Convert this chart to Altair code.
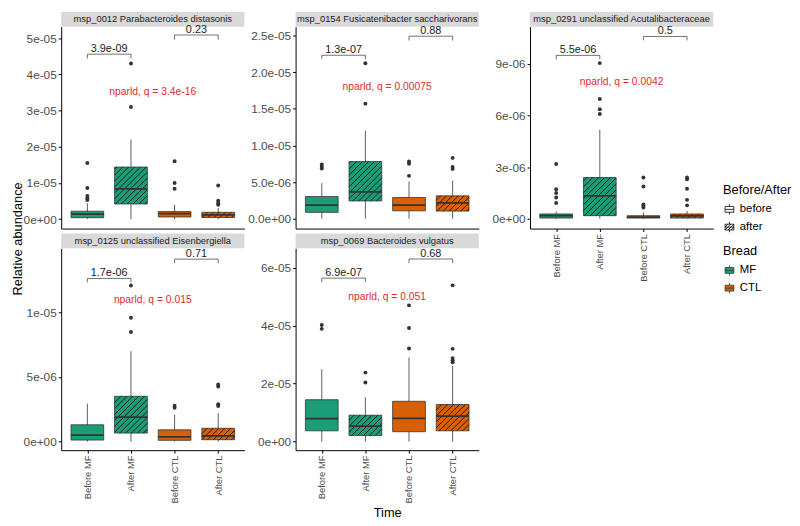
import altair as alt
import pandas as pd

# ---------------- data ----------------
POS = [1, 2, 3, 4]
TIME_LABELS = ["Before MF", "After MF", "Before CTL", "After CTL"]
BREAD = ["MF", "MF", "CTL", "CTL"]
BA = ["before", "after", "before", "after"]
GREEN = "#1B9E77"
ORANGE = "#D95F02"
BOX_COLORS = [GREEN, GREEN, ORANGE, ORANGE]

# panel 1
P1_TITLE = "msp_0012 Parabacteroides distasonis"
P1_Q1 = [0.4e-6, 4.2e-6, 0.6e-6, 0.45e-6]
P1_MED = [1.4e-6, 8.4e-6, 1.5e-6, 1.2e-6]
P1_Q3 = [2.2e-6, 14.4e-6, 2.1e-6, 1.9e-6]
P1_LO = [0, 0, 0, 0]
P1_HI = [4.4e-6, 22e-6, 4.0e-6, 3.1e-6]
P1_OUT = [[15.5e-6, 8.6e-6, 6.4e-6, 5.8e-6, 5.3e-6], [31e-6, 43e-6],
          [16e-6, 10e-6, 8.4e-6], [9.3e-6, 5.1e-6, 4.4e-6, 4.0e-6]]
P1_BR_Y = [45.6e-6, 50.9e-6]
P1_BR_TICK = [44.4e-6, 49.6e-6]
P1_BR_LAB = ["3.9e-09", "0.23"]
P1_NOTE = "nparld, q = 3.4e-16"
P1_NOTE_Y = 35.1e-6
P1_DOMAIN = [-2.6e-6, 53.2e-6]
P1_TICKS = [0, 1e-05, 2e-05, 3e-05, 4e-05, 5e-05]

# panel 2
P2_TITLE = "msp_0154 Fusicatenibacter saccharivorans"
P2_Q1 = [0.87e-6, 2.43e-6, 1.08e-6, 1.04e-6]
P2_MED = [1.86e-6, 3.68e-6, 1.86e-6, 2.17e-6]
P2_Q3 = [3.03e-6, 7.8e-6, 2.9e-6, 3.12e-6]
P2_LO = [0, 0, 0, 0]
P2_HI = [4.85e-6, 12.0e-6, 5.07e-6, 5.2e-6]
P2_OUT = [[7.4e-6, 7.1e-6, 6.85e-6], [15.7e-6, 21.2e-6],
          [7.8e-6, 7.5e-6, 5.85e-6], [8.3e-6, 7.06e-6, 6.8e-6]]
P2_BR_Y = [22.3e-6, 24.9e-6]
P2_BR_TICK = [21.75e-6, 24.3e-6]
P2_BR_LAB = ["1.3e-07", "0.88"]
P2_NOTE = "nparld, q = 0.00075"
P2_NOTE_Y = 17.9e-6
P2_DOMAIN = [-1.34e-6, 26.2e-6]
P2_TICKS = [0, 5e-06, 1e-05, 1.5e-05, 2e-05, 2.5e-05]

# panel 3
P3_TITLE = "msp_0291 unclassified Acutalibacteraceae"
P3_Q1 = [0.04e-6, 0.18e-6, 0.04e-6, 0.04e-6]
P3_MED = [0.18e-6, 1.33e-6, 0.09e-6, 0.17e-6]
P3_Q3 = [0.28e-6, 2.4e-6, 0.18e-6, 0.28e-6]
P3_LO = [0, 0, 0, 0]
P3_HI = [0.42e-6, 5.17e-6, 0.37e-6, 0.46e-6]
P3_OUT = [[3.18e-6, 1.72e-6, 1.5e-6, 1.24e-6, 0.92e-6], [9.05e-6, 6.96e-6, 6.37e-6, 6.09e-6],
          [2.4e-6, 1.88e-6, 0.83e-6, 0.74e-6, 0.65e-6], [2.4e-6, 2.3e-6, 1.75e-6, 1.1e-6, 0.78e-6]]
P3_BR_Y = [9.5e-6, 10.6e-6]
P3_BR_TICK = [9.27e-6, 10.37e-6]
P3_BR_LAB = ["5.5e-06", "0.5"]
P3_NOTE = "nparld, q = 0.0042"
P3_NOTE_Y = 7.94e-6
P3_DOMAIN = [-0.57e-6, 11.17e-6]
P3_TICKS = [0, 3e-06, 6e-06, 9e-06]

# panel 4
P4_TITLE = "msp_0125 unclassified Eisenbergiella"
P4_Q1 = [0.12e-6, 0.66e-6, 0.10e-6, 0.15e-6]
P4_MED = [0.51e-6, 1.89e-6, 0.37e-6, 0.44e-6]
P4_Q3 = [1.3e-6, 3.5e-6, 0.91e-6, 1.03e-6]
P4_LO = [0, 0, 0, 0]
P4_HI = [2.94e-6, 6.98e-6, 2.08e-6, 2.2e-6]
P4_OUT = [[], [12.06e-6, 9.56e-6, 8.46e-6],
          [2.77e-6, 2.62e-6], [4.41e-6, 4.26e-6, 2.89e-6, 2.75e-6]]
P4_BR_Y = [12.6e-6, 14.09e-6]
P4_BR_TICK = [12.3e-6, 13.77e-6]
P4_BR_LAB = ["1.7e-06", "0.71"]
P4_NOTE = "nparld, q = 0.015"
P4_NOTE_Y = 10.96e-6
P4_DOMAIN = [-0.66e-6, 14.93e-6]
P4_TICKS = [0, 5e-06, 1e-05]

# panel 5
P5_TITLE = "msp_0069 Bacteroides vulgatus"
P5_Q1 = [3.72e-6, 2.08e-6, 3.4e-6, 3.72e-6]
P5_MED = [7.9e-6, 5.37e-6, 8.0e-6, 8.76e-6]
P5_Q3 = [14.45e-6, 9.1e-6, 13.9e-6, 12.8e-6]
P5_LO = [0, 0, 0, 0]
P5_HI = [24.97e-6, 15.3e-6, 29.0e-6, 26.1e-6]
P5_OUT = [[40.2e-6, 38.9e-6], [23.8e-6, 20.4e-6],
          [32.1e-6, 39.2e-6, 47.0e-6], [53.9e-6, 32.0e-6, 28.8e-6, 28.1e-6, 27.4e-6]]
P5_BR_Y = [56.4e-6, 63.0e-6]
P5_BR_TICK = [55.0e-6, 61.6e-6]
P5_BR_LAB = ["6.9e-07", "0.68"]
P5_NOTE = "nparld, q = 0.051"
P5_NOTE_Y = 50.0e-6
P5_DOMAIN = [-2.96e-6, 66.7e-6]
P5_TICKS = [0, 2e-05, 4e-05, 6e-05]

# ---------------- style ----------------
W, H = 186, 205
COL_GAP = 52
XDOM = [0.4, 4.6]
BOXW = 0.75
HATCH_SPACING = 6.0
FONT = "Liberation Sans"
TXT = "#1A1A1A"
AXC = "#4D4D4D"
NOTE_COLOR = "#E42B2B"
LINE = "#333333"
LEG_X = 3 * W + 2 * COL_GAP + 10

BOX_PATH = "M-0.75,-0.5H0.75V0.5H-0.75Z M-0.75,0H0.75 M0,-0.5V-0.9 M0,0.5V0.9"
HATCH_PATH = BOX_PATH + " M-0.75,0L-0.25,-0.5 M-0.75,0.5L0.25,-0.5 M-0.25,0.5L0.75,-0.5 M0.25,0.5L0.75,0"

X_LABEL_EXPR = "[" + ",".join("'%s'" % t for t in TIME_LABELS) + "][datum.value - 1]"


def y_label_expr(fmt):
    return ("replace(replace(format(datum.value, '%s'), 'e-', 'e-0'), 'e+', 'e+0')" % fmt)


def hatch_segments(q1, q3, dom):
    kx = W / (XDOM[1] - XDOM[0])
    ky = H / (dom[1] - dom[0])
    rows = []
    for p, a, b, ba in zip(POS, q1, q3, BA):
        if ba != "after":
            continue
        x0 = (p - BOXW / 2 - XDOM[0]) * kx
        x1 = (p + BOXW / 2 - XDOM[0]) * kx
        y0 = (a - dom[0]) * ky
        y1 = (b - dom[0]) * ky
        cmin = y0 - x1
        cmax = y1 - x0
        k = int(cmin // HATCH_SPACING)
        while k * HATCH_SPACING <= cmax:
            c = k * HATCH_SPACING
            xa = max(x0, y0 - c)
            xb = min(x1, y1 - c)
            if xb - xa > 0.3:
                rows.append({
                    "hx": xa / kx + XDOM[0], "hx2": xb / kx + XDOM[0],
                    "hy": (xa + c) / ky + dom[0], "hy2": (xb + c) / ky + dom[0],
                })
            k += 1
    return pd.DataFrame(rows)


def panel(title, q1, med, q3, lo, hi, outl, br_y, br_tick, br_lab, note, note_y,
          dom, ticks, fmt, xmode, ytitle=False, time_title=False, legend=False):
    boxes = pd.DataFrame({
        "pos": POS, "time": TIME_LABELS, "bread": BREAD, "ba": BA, "col": BOX_COLORS,
        "q1": q1, "med": med, "q3": q3, "lo": lo, "hi": hi,
    })
    boxes["xl"] = boxes["pos"] - BOXW / 2
    boxes["xr"] = boxes["pos"] + BOXW / 2
    outs = pd.DataFrame([{"pos": p, "v": v} for p, vs in zip(POS, outl) for v in vs])
    brk = pd.DataFrame({"xa": [1, 3], "xb": [2, 4], "y": br_y, "yt": br_tick, "lab": br_lab})
    brk["xm"] = (brk["xa"] + brk["xb"]) / 2
    brk_v = pd.DataFrame({"bx": [1, 2, 3, 4], "by": [br_y[0], br_y[0], br_y[1], br_y[1]],
                          "byt": [br_tick[0], br_tick[0], br_tick[1], br_tick[1]]})
    notes = pd.DataFrame({"x": [2.5], "y": [note_y], "t": [note]})
    hat = hatch_segments(q1, q3, dom)

    xscale = alt.Scale(domain=XDOM, nice=False, zero=False)
    yscale = alt.Scale(domain=dom, nice=False, zero=False)

    if xmode == "labels":
        xaxis = alt.Axis(values=POS, labelExpr=X_LABEL_EXPR, labelAngle=270, labelFontSize=9.5,
                         labelColor=AXC, grid=False, domainColor="black", tickColor="black",
                         tickSize=3, labelPadding=2, titleFontSize=13, titleFontWeight="normal",
                         titleColor="black", titlePadding=4)
    else:
        xaxis = alt.Axis(values=POS, labels=False, ticks=False, grid=False, domainColor="black")
    xtitle = "Time" if time_title else None

    yaxis_kw = dict(values=ticks, labelExpr=y_label_expr(fmt), grid=False, domainColor="black",
                    tickColor="black", tickSize=3, labelFontSize=12, labelColor=AXC, labelPadding=2)
    if ytitle:
        yaxis_kw.update(titleFontSize=13, titleFontWeight="normal", titleColor="black",
                        titleX=-37, titleY=H + 10, titleAngle=270, titleAlign="center",
                        titleBaseline="bottom")
    yaxis = alt.Axis(**yaxis_kw)
    ytitle_txt = "Relative abundance" if ytitle else None

    def X(f):
        return alt.X(f, type="quantitative", scale=xscale, axis=xaxis, title=xtitle)

    def Y(f):
        return alt.Y(f, type="quantitative", scale=yscale, axis=yaxis, title=ytitle_txt)

    strip_df = pd.DataFrame({"t": [title]})
    strip = alt.Chart(strip_df).mark_rect(color="#D9D9D9").encode(
        x=alt.value(0), x2=alt.value(W), y=alt.value(-15), y2=alt.value(0))
    strip_txt = alt.Chart(strip_df).mark_text(font=FONT, fontSize=9.5, color=TXT,
                                              baseline="middle").encode(
        x=alt.value(W / 2), y=alt.value(-7.5), text="t:N")

    whisk = alt.Chart(boxes).mark_rule(color=LINE, strokeWidth=0.8).encode(
        x=X("pos"), y=Y("lo"), y2="hi")
    box = alt.Chart(boxes).mark_rect(stroke=LINE, strokeWidth=0.8).encode(
        x=X("xl"), x2="xr", y=Y("q1"), y2="q3",
        fill=alt.Fill("col:N", scale=None))
    layers = [strip, strip_txt, whisk, box]
    if len(hat):
        layers.append(alt.Chart(hat).mark_rule(color="#111111", strokeWidth=0.9).encode(
            x=X("hx"), x2="hx2", y=Y("hy"), y2="hy2"))
    layers.append(alt.Chart(boxes).mark_rule(color=LINE, strokeWidth=1.8).encode(
        x=X("xl"), x2="xr", y=Y("med")))
    if len(outs):
        layers.append(alt.Chart(outs).mark_circle(color=LINE, size=16, opacity=1).encode(
            x=X("pos"), y=Y("v")))
    layers.append(alt.Chart(brk).mark_rule(color=LINE, strokeWidth=0.7).encode(
        x=X("xa"), x2="xb", y=Y("y")))
    layers.append(alt.Chart(brk_v).mark_rule(color=LINE, strokeWidth=0.7).encode(
        x=X("bx"), y=Y("by"), y2="byt"))
    layers.append(alt.Chart(brk).mark_text(font=FONT, fontSize=11, color=TXT,
                                           baseline="alphabetic", dy=-2).encode(
        x=X("xm"), y=Y("y"), text="lab:N"))
    layers.append(alt.Chart(notes).mark_text(font=FONT, fontSize=10.5, color=NOTE_COLOR,
                                             baseline="middle").encode(
        x=X("x"), y=Y("y"), text="t:N"))
    if legend:
        layers.append(alt.Chart(boxes).mark_point(opacity=0, filled=True).encode(
            x=X("pos"), y=Y("med"),
            shape=alt.Shape("ba:N", scale=alt.Scale(domain=["before", "after"],
                                                    range=[BOX_PATH, HATCH_PATH]),
                            legend=alt.Legend(title="Before/After", orient="none",
                                              legendX=LEG_X, legendY=160,
                                              symbolFillColor="white", symbolStrokeColor="black",
                                              symbolStrokeWidth=0.8, symbolOpacity=1,
                                              symbolSize=140)),
            fill=alt.Fill("bread:N", scale=alt.Scale(domain=["MF", "CTL"], range=[GREEN, ORANGE]),
                          legend=alt.Legend(title="Bread", orient="none",
                                            legendX=LEG_X, legendY=222,
                                            symbolType=BOX_PATH, symbolStrokeColor="black",
                                            symbolStrokeWidth=0.8, symbolOpacity=1,
                                            symbolSize=140)),
        ))
    return alt.layer(*layers).properties(width=W, height=H)


p1 = panel(P1_TITLE, P1_Q1, P1_MED, P1_Q3, P1_LO, P1_HI, P1_OUT, P1_BR_Y, P1_BR_TICK, P1_BR_LAB,
           P1_NOTE, P1_NOTE_Y, P1_DOMAIN, P1_TICKS, ".0e", "none", ytitle=True, legend=True)
p2 = panel(P2_TITLE, P2_Q1, P2_MED, P2_Q3, P2_LO, P2_HI, P2_OUT, P2_BR_Y, P2_BR_TICK, P2_BR_LAB,
           P2_NOTE, P2_NOTE_Y, P2_DOMAIN, P2_TICKS, ".1e", "none")
p3 = panel(P3_TITLE, P3_Q1, P3_MED, P3_Q3, P3_LO, P3_HI, P3_OUT, P3_BR_Y, P3_BR_TICK, P3_BR_LAB,
           P3_NOTE, P3_NOTE_Y, P3_DOMAIN, P3_TICKS, ".0e", "labels")
p4 = panel(P4_TITLE, P4_Q1, P4_MED, P4_Q3, P4_LO, P4_HI, P4_OUT, P4_BR_Y, P4_BR_TICK, P4_BR_LAB,
           P4_NOTE, P4_NOTE_Y, P4_DOMAIN, P4_TICKS, ".0e", "labels")
p5 = panel(P5_TITLE, P5_Q1, P5_MED, P5_Q3, P5_LO, P5_HI, P5_OUT, P5_BR_Y, P5_BR_TICK, P5_BR_LAB,
           P5_NOTE, P5_NOTE_Y, P5_DOMAIN, P5_TICKS, ".0e", "labels", time_title=True)

chart = alt.concat(p1, p2, p3, p4, p5, columns=3, spacing={"row": 20, "column": COL_GAP},
                   bounds="flush").properties(
    padding={"left": 4, "top": 0, "right": 0, "bottom": 0}
).configure(font=FONT).configure_view(stroke=None).configure_legend(
    titleFontSize=13, titleFontWeight="normal", titleColor="black", labelFontSize=11.5,
    labelColor="black", rowPadding=3, titlePadding=6
)

chart.save("out.html", embed_options={"renderer": "svg", "actions": False})
